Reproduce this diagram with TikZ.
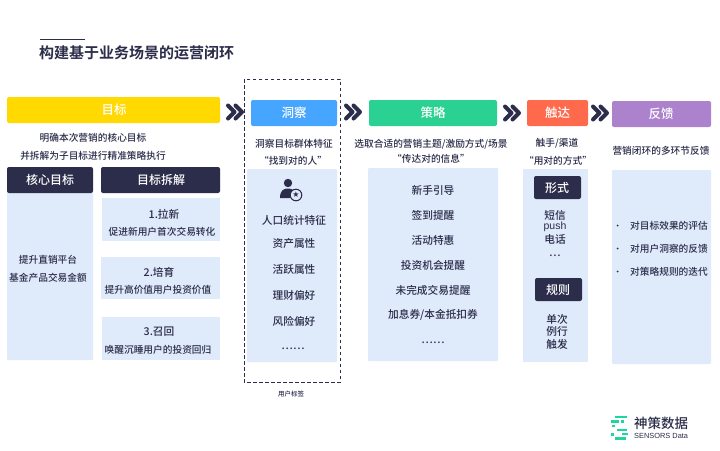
\documentclass[tikz,border=0pt]{standalone}
\usepackage{fontspec}
\setmainfont{Noto Sans CJK SC Medium}[BoldFont={Noto Sans CJK SC Bold}]
\setsansfont{Liberation Sans}
\definecolor{ink}{HTML}{2B2D4A}
\definecolor{pale}{HTML}{DFEAFB}
\definecolor{cyellow}{HTML}{FFD900}
\definecolor{cblue}{HTML}{45A5FF}
\definecolor{cgreen}{HTML}{2AD192}
\definecolor{cred}{HTML}{FF6A4D}
\definecolor{cpurple}{HTML}{AD82CC}
\definecolor{logog}{HTML}{1FD6A0}
\newcommand{\pxfont}[1]{\fontsize{#1}{#1}\selectfont}
\tikzset{
  x=1pt,y=-1pt,
  head/.style={text=white,font=\pxfont{12.5},inner sep=0pt,anchor=center},
  dark/.style={fill=ink,rounded corners=2pt},
  paleb/.style={fill=pale,rounded corners=1pt},
  body/.style={text=ink,font=\pxfont{9.7},inner sep=0pt,anchor=center},
  item/.style={text=ink,font=\pxfont{10.7},inner sep=0pt,anchor=center},
  chev/.style={draw=ink,line width=4pt,line join=round,line cap=round,fill=none},
  lg/.style={draw=logog,line width=2.2pt},
}
\newcommand{\chevrons}[2]{%
  \draw[chev] (#1+2,#2-6.5) -- (#1+8.5,#2) -- (#1+2,#2+6.5);
  \draw[chev] (#1+9.5,#2-6.5) -- (#1+16,#2) -- (#1+9.5,#2+6.5);
}
\begin{document}
\begin{tikzpicture}
\useasboundingbox (0,0) rectangle (720,450);
\fill[white] (0,0) rectangle (720,450);
% title
\draw[ink,line width=0.7pt] (40,39) -- (85,39);
\node[text=ink,font=\pxfont{15}\bfseries,inner sep=0pt,anchor=west] (title) at (39,53) {构建基于业务场景的运营闭环};
% column heads
\fill[cyellow,rounded corners=2pt] (7,97) rectangle (220,123);
\node[head] (h1) at (114,110) {目标};
\fill[cblue,rounded corners=2pt] (251,100) rectangle (337,126);
\node[head] (h2) at (294,113) {洞察};
\fill[cgreen,rounded corners=2pt] (369,100) rectangle (497,126);
\node[head] (h3) at (433,113) {策略};
\fill[cred,rounded corners=2pt] (527,100) rectangle (588,126);
\node[head] (h4) at (557.5,113) {触达};
\fill[cpurple,rounded corners=2pt] (612,101) rectangle (711,127);
\node[head] (h5) at (661,114) {反馈};
% chevrons
\chevrons{226}{112}
\chevrons{344}{112}
\chevrons{503}{113}
\chevrons{591}{113}
% column 1
\node[body] (a1) at (93,138) {明确本次营销的核心目标};
\node[body] (a2) at (93,156) {并拆解为子目标进行精准策略执行};
\fill[paleb] (7,190) rectangle (93,360);
\fill[dark] (7,167) rectangle (93,193);
\node[head,font=\pxfont{12}] (a3) at (50,180) {核心目标};
\fill[dark] (101,167) rectangle (220,193);
\node[head,font=\pxfont{12}] (a4) at (161,180) {目标拆解};
\node[body] (a5) at (48,260) {提升直销平台};
\node[body] (a6) at (48,278) {基金产品交易金额};
\fill[pale] (102,198) rectangle (220,241);
\node[item] (b1) at (164,214) {1.拉新};
\node[body] (b2) at (162,232) {促进新用户首次交易转化};
\fill[pale] (101,257) rectangle (220,299);
\node[item] (b3) at (159,272) {2.培育};
\node[body] (b4) at (158,290) {提升高价值用户投资价值};
\fill[pale] (102,317) rectangle (220,360);
\node[item] (b5) at (159,332) {3.召回};
\node[body] (b6) at (158,350) {唤醒沉睡用户的投资回归};
% column 2
\fill[paleb] (247,169) rectangle (337,362);
\draw[ink,line width=0.7pt,dash pattern=on 3.5pt off 2.5pt] (244,79) rectangle (340,382);
\node[body] (c1) at (294,144) {洞察目标群体特征};
\node[body] (c2) at (293,161) {“找到对的人”};
\fill[ink] (288,183) circle (4.2);
\fill[ink] (280,198) .. controls (280,190) and (284,188.5) .. (288,188.5) .. controls (290,188.5) and (292,189) .. (293,190) .. controls (290,192) and (289.5,195) .. (290,198) -- cycle;
\draw[ink,line width=1pt,fill=pale] (296,195) circle (5.8);
\node[text=ink,font=\fontspec{DejaVu Sans}\fontsize{8}{8}\selectfont,inner sep=0pt] (c0) at (296,195) {★};
\node[item] (c3) at (294,220) {人口统计特征};
\node[item] (c4) at (294,243) {资产属性};
\node[item] (c5) at (294,269) {活跃属性};
\node[item] (c6) at (294,295) {理财偏好};
\node[item] (c7) at (294,321) {风险偏好};
\node[item] (c8) at (293,349) {……};
\node[text=ink,font=\pxfont{6.5},inner sep=0pt] (c9) at (291,394) {用户标签};
% column 3
\node[body] (d1) at (431,144) {选取合适的营销主题/激励方式/场景};
\node[body] (d2) at (431,159) {“传达对的信息”};
\fill[paleb] (368,168) rectangle (498,361);
\node[item] (d3) at (433,190) {新手引导};
\node[item] (d4) at (433,215) {签到提醒};
\node[item] (d5) at (433,240) {活动特惠};
\node[item] (d6) at (433,265) {投资机会提醒};
\node[item] (d7) at (433,290) {未完成交易提醒};
\node[item] (d8) at (433,315) {加息券/本金抵扣券};
\node[item] (d9) at (433,343) {……};
% column 4
\node[body] (e1) at (557,143) {触手/渠道};
\node[body] (e2) at (558,161) {“用对的方式”};
\fill[pale] (523,169) rectangle (588,362);
\fill[dark] (534,176) rectangle (581,199);
\node[head,font=\pxfont{12}] (e3) at (557,188) {形式};
\node[item] (e4) at (555,215) {短信};
\node[item,font=\sffamily\pxfont{10.5}] (e5) at (555,227) {push};
\node[item] (e6) at (555,239.5) {电话};
\node[item] (e7) at (555,256) {…};
\fill[dark] (535,278) rectangle (582,301);
\node[head,font=\pxfont{12}] (e8) at (558,289.5) {规则};
\node[item] (e9) at (557,319) {单次};
\node[item] (e10) at (557,331) {例行};
\node[item] (e11) at (557,344) {触发};
% column 5
\node[body] (f1) at (661,151) {营销闭环的多环节反馈};
\fill[paleb] (612,170) rectangle (711,364);
\foreach \yy/\tt in {225.5/对目标效果的评估,248.5/对用户洞察的反馈,271.5/对策略规则的迭代}{
  \fill[ink] (617.5,\yy) circle (1);
  \node[body,anchor=west] at (630,\yy) {\tt};
}
% logo
\draw[lg] (615,417) -- (627,417);
\draw[lg] (611,421.5) -- (619,421.5);
\draw[lg] (621,421.5) -- (624,421.5);
\draw[lg] (612,426) -- (615,426);
\draw[lg] (617,430) -- (627,430);
\draw[lg] (622,434) -- (628,434);
\draw[lg] (611,434.5) -- (614,434.5);
\draw[lg] (615,438.5) -- (626,438.5);
\node[text=ink,font=\pxfont{13.5},inner sep=0pt,anchor=west] (l1) at (634,423.5) {神策数据};
\node[text=ink,font=\sffamily\pxfont{7.4},inner sep=0pt,anchor=west] (l2) at (634,435.5) {SENSORS Data};
\end{tikzpicture}
\end{document}
